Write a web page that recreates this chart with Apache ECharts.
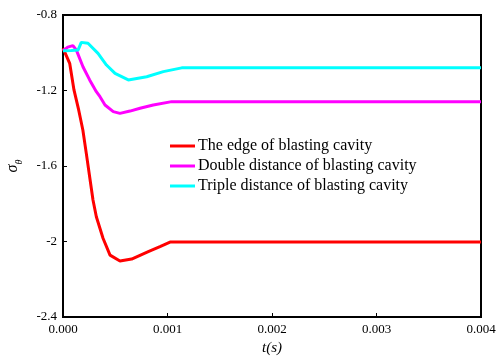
<!DOCTYPE html>
<html>
<head>
<meta charset="utf-8">
<script src="https://cdn.jsdelivr.net/npm/echarts@6/dist/echarts.min.js"></script>
<style>html,body{margin:0;padding:0;background:#fff}#c{width:496px;height:356px}</style>
</head>
<body>
<div id="c"></div>
<script>
var seriesNames = ['The edge of blasting cavity', 'Double distance of blasting cavity', 'Triple distance of blasting cavity'];
var seriesColors = ['#ff0000', '#ff00ff', '#00ffff'];

var edgeT = [0, 0.00001, 0.000064, 0.000105, 0.00015, 0.00019, 0.000223, 0.000255, 0.000287, 0.000319, 0.000383, 0.00045, 0.000545, 0.000657, 0.000816, 0.000928, 0.001024, 0.004];
var edgeV = [-0.975, -0.965, -1.056, -1.197, -1.303, -1.409, -1.533, -1.657, -1.78, -1.869, -1.983, -2.072, -2.103, -2.093, -2.054, -2.027, -2.003, -2.003];

var doubleT = [0, 0.000045, 0.000095, 0.000127, 0.000191, 0.000255, 0.000319, 0.000354, 0.000402, 0.000481, 0.000545, 0.000641, 0.000737, 0.000864, 0.00104, 0.004];
var doubleV = [-0.99, -0.97, -0.962, -0.985, -1.074, -1.144, -1.206, -1.233, -1.277, -1.312, -1.321, -1.309, -1.294, -1.277, -1.259, -1.259];

var tripleT = [0, 0.00008, 0.000145, 0.000175, 0.000194, 0.000239, 0.000335, 0.000416, 0.000498, 0.000625, 0.000801, 0.00096, 0.001136, 0.004];
var tripleV = [-0.99, -0.988, -0.985, -0.945, -0.936, -0.95, -1.003, -1.065, -1.109, -1.144, -1.127, -1.1, -1.08, -1.08];

var xTicks = { min: 0, max: 0.004, interval: 0.001 };
var yTicks = { min: -2.4, max: -0.8, interval: 0.4 };

function pairs(t, v) { return t.map(function (x, i) { return [x, v[i]]; }); }
var allT = [edgeT, doubleT, tripleT];
var allV = [edgeV, doubleV, tripleV];

var font = 'Liberation Serif';
var chart = echarts.init(document.getElementById('c'), null, { renderer: 'canvas' });
chart.setOption({
  animation: false,
  backgroundColor: '#fff',
  grid: { left: 63, right: 15, top: 15, bottom: 39, containLabel: false, outerBoundsMode: 'none', show: true, borderColor: '#000', borderWidth: 2, backgroundColor: 'transparent' },
  legend: {
    orient: 'vertical', left: 165, top: 133, itemWidth: 25, itemHeight: 3, itemGap: 4, icon: 'rect',
    textStyle: { fontFamily: font, fontSize: 16, color: '#000', padding: [0, 0, 0, -2] },
    data: seriesNames
  },
  xAxis: {
    type: 'value', min: xTicks.min, max: xTicks.max, interval: xTicks.interval,
    name: 't(s)', nameLocation: 'middle', nameGap: 23,
    nameTextStyle: { fontFamily: font, fontSize: 15, fontStyle: 'italic', color: '#000' },
    axisLine: { show: true, lineStyle: { color: '#000', width: 2 } },
    axisTick: { show: true, inside: true, length: 4, lineStyle: { color: '#000' } },
    axisLabel: { fontFamily: font, fontSize: 13, color: '#000', margin: 6, formatter: function (v) { return v.toFixed(3); } },
    splitLine: { show: false }
  },
  yAxis: {
    type: 'value', min: yTicks.min, max: yTicks.max, interval: yTicks.interval,
    name: '{s|σ}{t|θ}', nameLocation: 'middle', nameGap: 39,
    nameTextStyle: { color: '#000', rich: {
      s: { fontFamily: font, fontSize: 16, fontStyle: 'italic', color: '#000', lineHeight: 22, verticalAlign: 'middle' },
      t: { fontFamily: font, fontSize: 10, fontStyle: 'italic', color: '#000', lineHeight: 22, verticalAlign: 'bottom', padding: [6, 0, 0, 0] }
    } },
    axisLine: { show: true, lineStyle: { color: '#000', width: 2 } },
    axisTick: { show: true, inside: true, length: 4, lineStyle: { color: '#000' } },
    axisLabel: { fontFamily: font, fontSize: 13, color: '#000', margin: 6 },
    splitLine: { show: false }
  },
  series: seriesNames.map(function (n, i) {
    return {
      name: n, type: 'line', showSymbol: false, symbol: 'none',
      color: seriesColors[i],
      lineStyle: { color: seriesColors[i], width: 3 },
      data: pairs(allT[i], allV[i])
    };
  })
});
</script>
</body>
</html>
